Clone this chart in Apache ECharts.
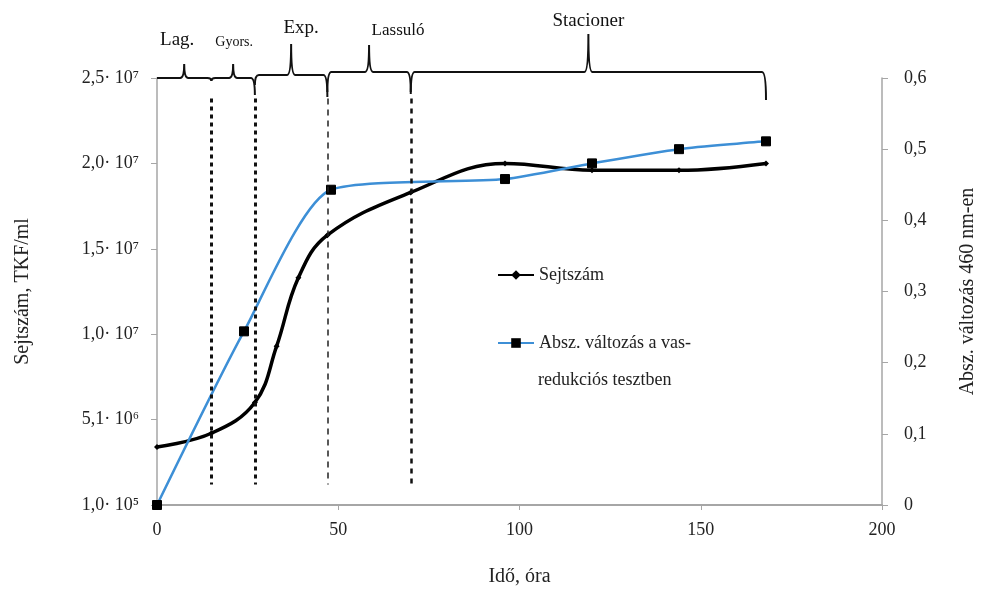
<!DOCTYPE html>
<html>
<head>
<meta charset="utf-8">
<script src="https://cdn.jsdelivr.net/npm/echarts@6/dist/echarts.min.js"></script>
<style>html,body{margin:0;padding:0;background:#fff}#c{width:987px;height:592px}</style>
</head>
<body>
<div id="c"></div>
<script>
// ---- data ----
const cellHours = [0, 15, 27, 33, 39, 47, 70, 96, 120, 144, 168];
const cellCount = [3.4, 4.2, 6.0, 9.3, 13.3, 15.8, 18.3, 20.0, 19.6, 19.6, 20.0]; // x10^6 TKF/ml
const absHours = [0, 24, 48, 96, 120, 144, 168];
const absChange = [0, 0.244, 0.443, 0.458, 0.48, 0.50, 0.511];
const leftTickLabels = ['1,0· 10⁵', '5,1· 10⁶', '1,0· 10⁷', '1,5· 10⁷', '2,0· 10⁷', '2,5· 10⁷'];
const phaseNames = ['Lag.', 'Gyors.', 'Exp.', 'Lassuló', 'Stacioner'];
const phaseStart = [0, 15, 27, 47, 70];
const phaseEnd = [15, 27, 47, 70, 168];
const boundaries = [15, 27, 47, 70];
const seriesNames = ['Sejtszám', 'Absz. változás a vas-redukciós tesztben'];

// ---- layout / styles ----
const LEFT_MAX = 25;
const FONT = '"Liberation Serif", "DejaVu Serif", serif';
const braceStyle = [
  {lift: 0, rise: 14, dropL: 0, dropR: 3, dy: -38, dx: -7, size: 19},
  {lift: 0, rise: 14, dropL: 3, dropR: 17, dy: -36, dx: 1, size: 14},
  {lift: 3, rise: 31, dropL: 10, dropR: 22, dy: -50, dx: 10, size: 19},
  {lift: 6, rise: 27, dropL: 20, dropR: 20, dy: -47, dx: 29, size: 17},
  {lift: 6, rise: 38, dropL: 22, dropR: 28, dy: -57, dx: 0, size: 19}
];
const boundaryStyles = [
  {type: [4, 4], width: 3, color: '#111'},
  {type: [4, 4], width: 3, color: '#111'},
  {type: [6, 5], width: 1.5, color: '#222'},
  {type: [5, 5], width: 2.5, color: '#111'}
];

function renderBrace(params, api) {
  const i = params.dataIndex;
  const s = braceStyle[i];
  const p1 = api.coord([api.value(0), LEFT_MAX]);
  const p2 = api.coord([api.value(1), LEFT_MAX]);
  const x1 = p1[0], x2 = p2[0], top = p1[1];
  const xm = (x1 + x2) / 2;
  const yb = top - s.lift;
  const yp = yb - s.rise;
  const r = 4;
  const d = [
    'M', x1, yb + s.dropL,
    'Q', x1, yb, x1 + r, yb,
    'L', xm - r, yb,
    'Q', xm, yb, xm, yp,
    'Q', xm, yb, xm + r, yb,
    'L', x2 - r, yb,
    'Q', x2, yb, x2, yb + s.dropR
  ].join(' ');
  return {
    type: 'group',
    children: [
      {type: 'path', shape: {pathData: d}, style: {stroke: '#111', lineWidth: 2, fill: null}},
      {type: 'text', x: xm + s.dx, y: top + s.dy,
       style: {text: phaseNames[i], font: s.size + 'px ' + FONT, fill: '#111', align: 'center', verticalAlign: 'middle'}}
    ]
  };
}

const axisLabelStyle = {fontFamily: FONT, fontSize: 18, color: '#222'};
const nameStyle = {fontFamily: FONT, fontSize: 20, color: '#222'};

const chart = echarts.init(document.getElementById('c'), null, {renderer: 'canvas'});
chart.setOption({
  animation: false,
  backgroundColor: '#fff',
  grid: {left: 157, right: 105, top: 78, bottom: 87, containLabel: false, outerBoundsMode: 'none'},
  legend: {
    orient: 'vertical', left: 492, top: 261, itemGap: 50, itemWidth: 36, itemHeight: 12,
    textStyle: {fontFamily: FONT, fontSize: 18, color: '#222'},
    formatter: function (n) { return n === seriesNames[1] ? 'Absz. változás a vas-' : n; },
    data: seriesNames
  },
  graphic: [{
    type: 'text', left: 538, top: 371,
    style: {text: 'redukciós tesztben', font: '18px ' + FONT, fill: '#222'}
  }],
  xAxis: {
    type: 'value', min: 0, max: 200, interval: 50,
    axisLine: {show: true, lineStyle: {color: '#a6a6a6', width: 2}},
    axisTick: {show: true, length: 5, lineStyle: {color: '#a6a6a6'}},
    splitLine: {show: false},
    axisLabel: Object.assign({margin: 16}, axisLabelStyle),
    name: 'Idő, óra', nameLocation: 'middle', nameGap: 62, nameTextStyle: nameStyle
  },
  yAxis: [{
    type: 'value', min: 0, max: LEFT_MAX, interval: 5,
    axisLine: {show: true, lineStyle: {color: '#a6a6a6', width: 1.5}},
    axisTick: {show: true, length: 6, lineStyle: {color: '#a6a6a6'}},
    splitLine: {show: false},
    axisLabel: Object.assign({margin: 18, formatter: function (v) { return leftTickLabels[Math.round(v / 5)]; }}, axisLabelStyle),
    name: 'Sejtszám, TKF/ml', nameLocation: 'middle', nameGap: 124, nameRotate: 90, nameTextStyle: nameStyle
  }, {
    type: 'value', min: 0, max: 0.6, interval: 0.1,
    axisLine: {show: true, lineStyle: {color: '#a6a6a6', width: 1.5}},
    axisTick: {show: true, length: 6, lineStyle: {color: '#a6a6a6'}},
    splitLine: {show: false},
    axisLabel: Object.assign({margin: 22, formatter: function (v) { return v === 0 ? '0' : v.toFixed(1).replace('.', ','); }}, axisLabelStyle),
    name: 'Absz. változás 460 nm-en', nameLocation: 'middle', nameGap: 76, nameRotate: 90, nameTextStyle: nameStyle
  }],
  series: [{
    name: seriesNames[0], type: 'line', yAxisIndex: 0, smooth: 0.4,
    data: cellHours.map((h, i) => [h, cellCount[i]]),
    symbol: 'diamond', symbolSize: 6,
    lineStyle: {color: '#000', width: 3.5},
    itemStyle: {color: '#000'},
    z: 3,
    markLine: {
      silent: true, symbol: 'none', label: {show: false},
      data: boundaries.map((b, i) => [{coord: [b, 23.8], lineStyle: boundaryStyles[i]}, {coord: [b, 1.2]}])
    }
  }, {
    name: seriesNames[1], type: 'line', yAxisIndex: 1, smooth: 0.22,
    data: absHours.map((h, i) => [h, absChange[i]]),
    symbol: 'rect', symbolSize: 9,
    lineStyle: {color: '#3d8fd6', width: 2.5},
    itemStyle: {color: '#000', borderColor: '#000'},
    z: 4
  }, {
    type: 'custom', xAxisIndex: 0, yAxisIndex: 0, clip: false, silent: true,
    renderItem: renderBrace,
    encode: {x: [0, 1]},
    data: phaseStart.map((s, i) => [s, phaseEnd[i]]),
    z: 5
  }]
});
</script>
</body>
</html>
